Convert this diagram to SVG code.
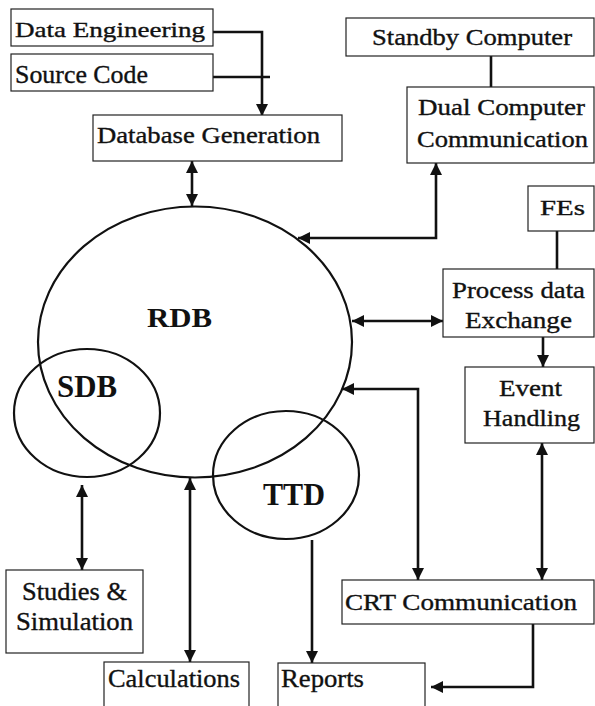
<svg xmlns="http://www.w3.org/2000/svg" width="595" height="706" viewBox="0 0 595 706">
  <style>
    .box { fill: #ffffff; stroke: #222222; stroke-width: 1.2; }
    .lbl { font-family: "Liberation Serif", "Times New Roman", serif; fill: #111111; stroke: #111111; stroke-width: 0.35; }
    .big { font-family: "Liberation Serif", "Times New Roman", serif; font-weight: bold; fill: #111111; }
    .db { fill: none; stroke: #111111; stroke-width: 2.2; }
    .wire { fill: none; stroke: #111111; stroke-width: 2.6; }
  </style>
  <defs>
    <marker id="head" markerUnits="userSpaceOnUse" markerWidth="12" markerHeight="12" viewBox="0 0 12 12" refX="12" refY="6" orient="auto-start-reverse">
      <path d="M0,0 L12,6 L0,12 z" fill="#111111"/>
    </marker>
  </defs>
  <rect width="595" height="706" fill="#ffffff"/>

  <!-- databases -->
  <g id="rdb">
    <ellipse class="db" cx="195" cy="342" rx="157" ry="135.5"/>
    <text class="big" x="147" y="327" font-size="28" textLength="65" lengthAdjust="spacingAndGlyphs">RDB</text>
  </g>
  <g id="sdb">
    <ellipse class="db" cx="87" cy="413" rx="73" ry="64"/>
    <text class="big" x="57" y="397" font-size="31" textLength="60" lengthAdjust="spacingAndGlyphs">SDB</text>
  </g>
  <g id="ttd">
    <ellipse class="db" cx="286" cy="475" rx="73" ry="64"/>
    <text class="big" x="263" y="505" font-size="31" textLength="62" lengthAdjust="spacingAndGlyphs">TTD</text>
  </g>

  <!-- connectors -->
  <g id="connectors">
    <path class="wire" d="M213,32 H262 V116" marker-end="url(#head)"/>
    <path class="wire" d="M213,77 H270"/>
    <path class="wire" d="M192,161 V206" marker-start="url(#head)" marker-end="url(#head)"/>
    <path class="wire" d="M491,56 V87"/>
    <path class="wire" d="M298,238 H436 V163" marker-start="url(#head)" marker-end="url(#head)"/>
    <path class="wire" d="M557,231 V269"/>
    <path class="wire" d="M352,321 H443" marker-start="url(#head)" marker-end="url(#head)"/>
    <path class="wire" d="M543,337 V367" marker-end="url(#head)"/>
    <path class="wire" d="M342,389 H418 V580" marker-start="url(#head)" marker-end="url(#head)"/>
    <path class="wire" d="M542,443 V580" marker-start="url(#head)" marker-end="url(#head)"/>
    <path class="wire" d="M533,624 V687 H431" marker-end="url(#head)"/>
    <path class="wire" d="M312,540 V663" marker-end="url(#head)"/>
    <path class="wire" d="M82,485 V570" marker-start="url(#head)" marker-end="url(#head)"/>
    <path class="wire" d="M190,478 V662" marker-start="url(#head)" marker-end="url(#head)"/>
  </g>

  <!-- process boxes -->
  <g id="data-engineering">
    <rect class="box" x="11" y="9" width="202" height="37"/>
    <text class="lbl" x="15" y="37" font-size="21" textLength="190" lengthAdjust="spacingAndGlyphs">Data Engineering</text>
  </g>
  <g id="source-code">
    <rect class="box" x="11" y="54" width="202" height="37"/>
    <text class="lbl" x="15" y="83" font-size="26" textLength="133" lengthAdjust="spacingAndGlyphs">Source Code</text>
  </g>
  <g id="database-generation">
    <rect class="box" x="93" y="115" width="249" height="46"/>
    <text class="lbl" x="97" y="143" font-size="23" textLength="223" lengthAdjust="spacingAndGlyphs">Database Generation</text>
  </g>
  <g id="standby-computer">
    <rect class="box" x="346" y="18" width="248" height="38"/>
    <text class="lbl" x="372" y="45" font-size="23" textLength="200" lengthAdjust="spacingAndGlyphs">Standby Computer</text>
  </g>
  <g id="dual-computer">
    <rect class="box" x="407" y="87" width="187" height="76"/>
    <text class="lbl" x="418" y="115" font-size="23" textLength="167" lengthAdjust="spacingAndGlyphs">Dual Computer</text>
    <text class="lbl" x="417" y="147" font-size="23" textLength="171" lengthAdjust="spacingAndGlyphs">Communication</text>
  </g>
  <g id="fes">
    <rect class="box" x="528" y="186" width="66" height="45"/>
    <text class="lbl" x="540" y="215" font-size="22" textLength="45" lengthAdjust="spacingAndGlyphs">FEs</text>
  </g>
  <g id="process-data-exchange">
    <rect class="box" x="443" y="269" width="151" height="68"/>
    <text class="lbl" x="452" y="298" font-size="24" textLength="133" lengthAdjust="spacingAndGlyphs">Process data</text>
    <text class="lbl" x="465" y="328" font-size="23" textLength="107" lengthAdjust="spacingAndGlyphs">Exchange</text>
  </g>
  <g id="event-handling">
    <rect class="box" x="465" y="367" width="129" height="76"/>
    <text class="lbl" x="499" y="396" font-size="23" textLength="63" lengthAdjust="spacingAndGlyphs">Event</text>
    <text class="lbl" x="483" y="426" font-size="23" textLength="97" lengthAdjust="spacingAndGlyphs">Handling</text>
  </g>
  <g id="crt-communication">
    <rect class="box" x="342" y="580" width="252" height="44"/>
    <text class="lbl" x="345" y="610" font-size="23" textLength="232" lengthAdjust="spacingAndGlyphs">CRT Communication</text>
  </g>
  <g id="studies-simulation">
    <rect class="box" x="6" y="570" width="137" height="83"/>
    <text class="lbl" x="22" y="600" font-size="25" textLength="105" lengthAdjust="spacingAndGlyphs">Studies &amp;</text>
    <text class="lbl" x="16" y="630" font-size="25" textLength="117" lengthAdjust="spacingAndGlyphs">Simulation</text>
  </g>
  <g id="calculations">
    <rect class="box" x="104" y="662" width="145" height="50"/>
    <text class="lbl" x="108" y="687" font-size="26" textLength="132" lengthAdjust="spacingAndGlyphs">Calculations</text>
  </g>
  <g id="reports">
    <rect class="box" x="278" y="663" width="147" height="50"/>
    <text class="lbl" x="281" y="687" font-size="26" textLength="83" lengthAdjust="spacingAndGlyphs">Reports</text>
  </g>
</svg>
